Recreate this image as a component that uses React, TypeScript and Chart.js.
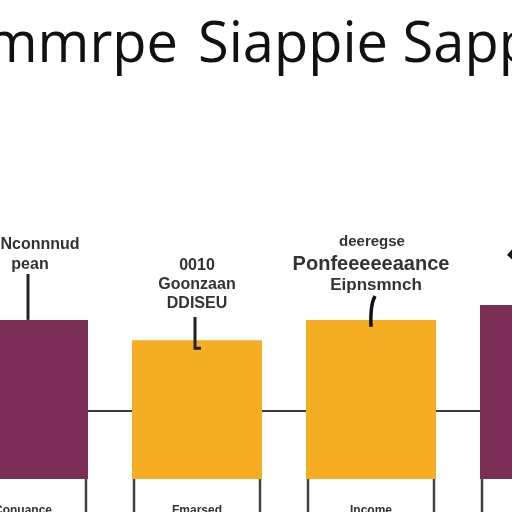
import Chart from "chart.js/auto";
import { useEffect, useRef } from "react";

const categories: string[] = ["Conuance", "Fmarsed", "Income", "Savings"];
const values: number[] = [23.4, 20.4, 23.4, 25.6];
const barColors: string[] = ["#7b2f56", "#f5ad23", "#f5ad23", "#7b2f56"];
const notes: string[][] = [
  ["Nconnnud", "pean"],
  ["0010", "Goonzaan", "DDISEU"],
  ["deeregse", "Ponfeeeeeaance", "Eipnsmnch"],
  [],
];
const baseLine = 10;

const App: React.FC = () => {
  const chartRef = useRef<HTMLCanvasElement | null>(null);

  useEffect(() => {
    if (!chartRef.current) return;
    const ctx = chartRef.current.getContext("2d");
    if (!ctx) return;

    // left offset of the canvas inside the 512px frame
    const shift = 64;

    const decorations = {
      id: "decorations",
      beforeDatasetsDraw(chart: any) {
        const c = chart.ctx;
        const y = chart.scales.y.getPixelForValue(baseLine);
        c.save();
        c.strokeStyle = "#3a3a3a";
        c.lineWidth = 2;
        c.beginPath();
        c.moveTo(chart.chartArea.left, y);
        c.lineTo(chart.chartArea.right, y);
        c.stroke();
        c.restore();
      },
      afterDatasetsDraw(chart: any) {
        const c = chart.ctx;
        const meta = chart.getDatasetMeta(0);
        const bottom = chart.chartArea.bottom;
        c.save();

        // title
        c.fillStyle = "#111";
        c.font = "56px 'Open Sans'";
        c.textBaseline = "alphabetic";
        c.textAlign = "left";
        c.fillText("Siappie Sapple", shift + 198, 62);
        c.textAlign = "right";
        c.fillText("Summrpe", shift + 178, 62);

        meta.data.forEach((bar: any, i: number) => {
          const half = bar.width / 2;
          // legs under the bars
          c.strokeStyle = "#444";
          c.lineWidth = 2.5;
          c.beginPath();
          c.moveTo(bar.x - half + 2, bottom);
          c.lineTo(bar.x - half + 2, 512);
          c.moveTo(bar.x + half - 2, bottom);
          c.lineTo(bar.x + half - 2, 512);
          c.stroke();

          // category label, cut by the bottom edge
          c.fillStyle = "#333";
          c.font = "bold 12px 'Liberation Sans'";
          c.textAlign = "center";
          c.textBaseline = "top";
          c.fillText(categories[i], bar.x, 505);

          // notes above each bar
          const lines = notes[i];
          c.textBaseline = "alphabetic";
          if (i === 0) {
            c.font = "bold 16px 'Liberation Sans Narrow', 'Liberation Sans'";
            c.fillText(lines[0], bar.x + 17, 249);
            c.fillText(lines[1], bar.x + 7, 269);
            c.strokeStyle = "#222";
            c.lineWidth = 3;
            c.beginPath();
            c.moveTo(bar.x + 5, 274);
            c.lineTo(bar.x + 5, bar.y);
            c.stroke();
          } else if (i === 1) {
            c.font = "bold 16px 'Liberation Sans'";
            c.fillText(lines[0], bar.x, 270);
            c.fillText(lines[1], bar.x, 289);
            c.fillText(lines[2], bar.x, 308);
            c.strokeStyle = "#222";
            c.lineWidth = 3;
            c.beginPath();
            c.moveTo(bar.x - 2, 317);
            c.lineTo(bar.x - 2, bar.y + 8);
            c.lineTo(bar.x + 4, bar.y + 8);
            c.stroke();
          } else if (i === 2) {
            c.font = "bold 15px 'Liberation Sans'";
            c.fillText(lines[0], bar.x + 1, 246);
            c.font = "bold 20px 'Liberation Sans'";
            c.fillText(lines[1], bar.x, 270);
            c.font = "bold 17px 'Liberation Sans'";
            c.fillText(lines[2], bar.x + 5, 290);
            c.strokeStyle = "#111";
            c.lineWidth = 3.5;
            c.beginPath();
            c.moveTo(bar.x + 4, 296);
            c.quadraticCurveTo(bar.x - 1, 305, bar.x, bar.y + 7);
            c.stroke();
          } else {
            c.fillStyle = "#111";
            c.beginPath();
            c.moveTo(bar.x - 38, 255);
            c.lineTo(bar.x - 30, 246);
            c.lineTo(bar.x - 30, 262);
            c.closePath();
            c.fill();
          }
        });
        c.restore();
      },
    };

    const myChart = new Chart(ctx, {
      type: "bar",
      plugins: [decorations],
      data: {
        labels: categories,
        datasets: [
          {
            data: values,
            backgroundColor: barColors,
            borderWidth: 0,
            barPercentage: 0.747,
            categoryPercentage: 1,
          },
        ],
      },
      options: {
        responsive: false,
        animation: false,
        layout: { padding: { top: 3, bottom: 33, left: 0, right: 0 } },
        plugins: {
          legend: { display: false },
          tooltip: { enabled: false },
          title: { display: false },
        },
        scales: {
          x: { display: false },
          y: { display: false, min: 0, max: 70 },
        },
      },
    });
    return () => myChart.destroy();
  }, []);

  return (
    <div style={{ position: "fixed", left: 0, top: 0, width: 512, height: 512, overflow: "hidden", background: "#fff" }}>
      <canvas ref={chartRef} width={696} height={512} style={{ position: "absolute", left: -64, top: 0 }} />
    </div>
  );
};

export default App;
